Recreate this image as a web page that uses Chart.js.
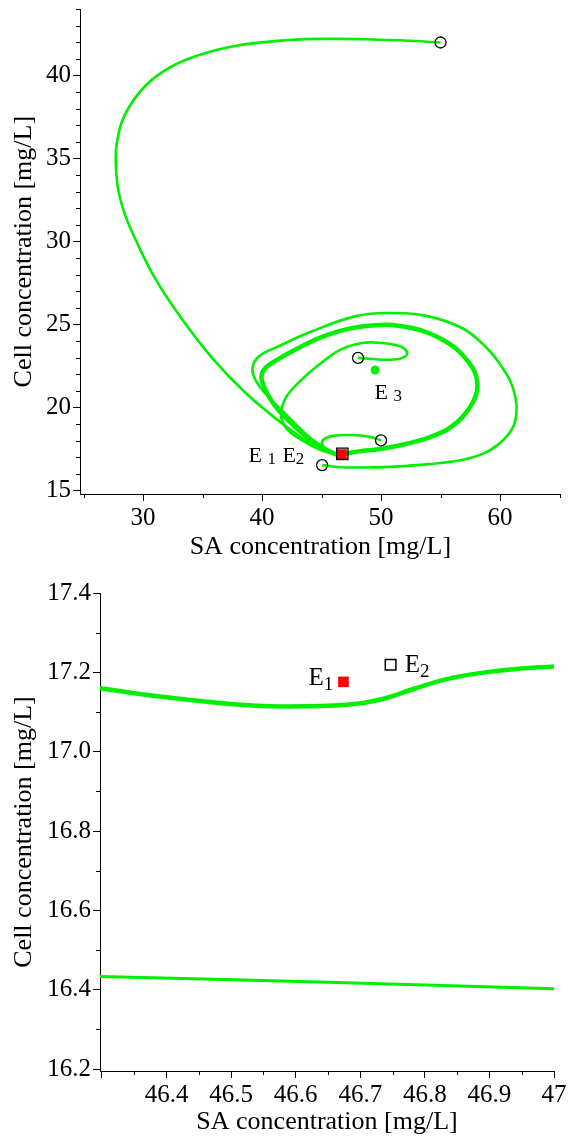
<!DOCTYPE html>
<html lang="en">
<head>
  <meta charset="UTF-8" />
  <title>Phase portrait</title>
  <style>
    body { margin: 0; background: #fff; }
    canvas { display: block; }
  </style>
</head>
<body>
  <canvas id="phaseChart" width="570" height="570"></canvas>
  <canvas id="zoomChart" width="570" height="570"></canvas>

  <script src="https://cdn.jsdelivr.net/npm/chart.js"></script>
  <script>
    // --- top chart: trajectories (SA, cell) ---
    const swoopX = [55, 52, 49.8, 46, 42.3, 37.5, 33.6, 31.1, 29.45, 28.3, 27.8, 27.7, 27.9, 28.5, 29.45, 31.0, 33.2, 35.8, 38.6, 41.6, 44.2, 46.3];
    const swoopY = [42.0, 42.12, 42.17, 42.22, 42.15, 41.76, 40.96, 39.96, 38.77, 37.37, 35.97, 34.98, 33.18, 31.6, 30.0, 27.8, 25.4, 23.0, 20.9, 19.1, 17.8, 17.16];

    const cycleX = [46.3, 46.6, 46.9, 47.5, 48.5, 49.8, 52.0, 54.0, 55.6, 56.8, 57.7, 58.1, 57.9, 57.3, 56.4, 55.4, 54.0, 52.6, 50.5, 48.5, 46.4, 44.5, 42.8, 41.3, 40.3, 39.95, 40.2, 40.9, 41.7, 43.0, 44.2, 45.3, 46.3];
    const cycleY = [17.16, 17.11, 17.19, 17.3, 17.4, 17.5, 17.8, 18.2, 18.7, 19.4, 20.3, 21.2, 22.1, 22.8, 23.5, 24.0, 24.5, 24.8, 25.0, 24.9, 24.6, 24.1, 23.5, 22.9, 22.4, 21.9, 21.2, 20.3, 19.6, 18.7, 18.0, 17.5, 17.16];

    const outerX = [45.05, 46.3, 47.0, 49.0, 51.2, 54.0, 56.8, 58.5, 59.7, 60.6, 61.2, 61.4, 61.2, 60.8, 60.2, 59.4, 58.3, 56.8, 54.0, 50.6, 47.8, 44.2, 41.4, 39.75, 39.2, 39.5, 40.6, 42.0, 43.7, 45.3, 46.3];
    const outerY = [16.54, 16.43, 16.40, 16.40, 16.45, 16.6, 16.85, 17.2, 17.7, 18.3, 19.0, 20.0, 20.9, 21.7, 22.4, 23.2, 24.0, 24.8, 25.5, 25.7, 25.5, 24.6, 23.7, 23.1, 22.4, 21.6, 20.6, 19.6, 18.4, 17.5, 17.16];

    const innerX = [48.07, 49.8, 51.0, 51.8, 52.2, 51.6, 50.0, 48.4, 46.6, 44.8, 43.2, 42.0, 41.6, 42.0, 43.2, 44.8, 46.3];
    const innerY = [23.0, 22.9, 22.9, 23.0, 23.3, 23.7, 23.9, 23.9, 23.5, 22.6, 21.6, 20.6, 19.6, 18.8, 18.1, 17.5, 17.16];

    const hookX = [50.0, 49.0, 47.5, 46.0, 45.2, 45.05, 45.5, 46.3];
    const hookY = [18.03, 18.25, 18.35, 18.3, 18.1, 17.8, 17.45, 17.16];

    const startX = [55, 48.07, 50.0, 45.05];
    const startY = [42.0, 23.0, 18.03, 16.54];

    // equilibria
    const e1 = [46.674, 17.176];
    const e2 = [46.747, 17.219];
    const e3 = [49.5, 22.27];

    // --- bottom chart: zoom near E1/E2 ---
    const zoomUpperX = [46.297, 46.4, 46.5, 46.576, 46.679, 46.73, 46.782, 46.834, 46.885, 46.937, 47.0];
    const zoomUpperY = [17.16, 17.137, 17.12, 17.114, 17.118, 17.131, 17.158, 17.183, 17.198, 17.208, 17.215];
    const zoomLowerX = [46.297, 46.65, 47.005];
    const zoomLowerY = [16.433, 16.419, 16.402];

    // --- ticks ---
    const topXTicks = [30, 40, 50, 60];
    const topXMinor = [25, 35, 45, 55, 65];
    const topYTicks = [15, 20, 25, 30, 35, 40];
    const topYMinor = [16, 17, 18, 19, 21, 22, 23, 24, 26, 27, 28, 29, 31, 32, 33, 34, 36, 37, 38, 39, 41, 42, 43, 44];

    const botXTicks = [46.3, 46.4, 46.5, 46.6, 46.7, 46.8, 46.9, 47];
    const botXLabels = ['', '46.4', '46.5', '46.6', '46.7', '46.8', '46.9', '47'];
    const botXMinor = [46.35, 46.45, 46.55, 46.65, 46.75, 46.85, 46.95];
    const botYTicks = [16.2, 16.4, 16.6, 16.8, 17.0, 17.2, 17.4];
    const botYLabels = ['16.2', '16.4', '16.6', '16.8', '17.0', '17.2', '17.4'];
    const botYMinor = [16.3, 16.5, 16.7, 16.9, 17.1, 17.3];

    const GREEN = '#00f000';
    const SERIF = '"Liberation Serif", "DejaVu Serif", serif';

    const pts = (xs, ys) => xs.map((x, i) => ({ x: x, y: ys[i] }));

    function curve(xs, ys, width) {
      return {
        data: pts(xs, ys), showLine: true, borderColor: GREEN, borderWidth: width,
        pointRadius: 0, tension: 0.4, fill: false
      };
    }

    // short ticks between the labelled ones
    const minorTicks = {
      id: 'minorTicks',
      afterDraw(chart, args, opts) {
        const ctx = chart.ctx;
        const { x, y } = chart.scales;
        ctx.save();
        ctx.strokeStyle = '#000';
        ctx.lineWidth = 1;
        (opts.x || []).forEach(v => {
          const px = Math.round(x.getPixelForValue(v)) + 0.5;
          ctx.beginPath(); ctx.moveTo(px, x.top); ctx.lineTo(px, x.top + 4); ctx.stroke();
        });
        (opts.y || []).forEach(v => {
          const py = Math.round(y.getPixelForValue(v)) + 0.5;
          ctx.beginPath(); ctx.moveTo(y.right, py); ctx.lineTo(y.right - 4, py); ctx.stroke();
        });
        ctx.restore();
      }
    };

    // E labels with subscripts
    const eqLabels = {
      id: 'eqLabels',
      afterDatasetsDraw(chart, args, opts) {
        const ctx = chart.ctx;
        const { x, y } = chart.scales;
        ctx.save();
        ctx.fillStyle = '#000';
        ctx.textBaseline = 'alphabetic';
        (opts.items || []).forEach(it => {
          const px = x.getPixelForValue(it.x);
          const py = y.getPixelForValue(it.y);
          ctx.font = opts.mainSize + 'px ' + SERIF;
          ctx.fillText(it.main, px, py);
          const w = ctx.measureText(it.main).width;
          ctx.font = opts.subSize + 'px ' + SERIF;
          ctx.fillText(it.sub, px + w, py + opts.drop);
        });
        ctx.restore();
      }
    };

    function axis(opts) {
      return {
        type: 'linear',
        position: opts.position,
        min: opts.min,
        max: opts.max,
        afterBuildTicks: s => { s.ticks = opts.ticks.map(v => ({ value: v })); },
        afterFit: s => {
          if (opts.position === 'left') { s.width = opts.size; s.paddingTop = 0; s.paddingBottom = 0; }
          else { s.height = opts.size; s.paddingLeft = 0; s.paddingRight = 0; }
        },
        grid: { drawOnChartArea: false, drawTicks: true, tickLength: 7, color: '#000', tickWidth: 1 },
        border: { display: true, color: '#000', width: 1 },
        ticks: {
          color: '#000', padding: 2, maxRotation: 0, autoSkip: false,
          font: { family: SERIF, size: 25 },
          callback: (v, i) => opts.labels ? opts.labels[i] : String(v)
        },
        title: {
          display: true, text: opts.title, color: '#000',
          font: { family: SERIF, size: 26 },
          padding: opts.titlePad
        }
      };
    }

    const baseOpts = {
      responsive: false,
      animation: false,
      devicePixelRatio: 1,
      events: [],
      plugins: { legend: { display: false }, tooltip: { enabled: false } }
    };

    new Chart(document.getElementById('phaseChart'), {
      type: 'scatter',
      data: {
        datasets: [
          { data: pts(startX, startY), pointRadius: 5.5, pointStyle: 'circle', backgroundColor: 'rgba(0,0,0,0)', borderColor: '#000', borderWidth: 1.3 },
          { data: pts([e2[0]], [e2[1]]), pointRadius: 8, pointStyle: 'rect', backgroundColor: 'rgba(0,0,0,0)', borderColor: '#000', borderWidth: 1.3 },
          { data: pts([e1[0]], [e1[1]]), pointRadius: 7.5, pointStyle: 'rect', backgroundColor: '#ff0000', borderColor: '#ff0000', borderWidth: 0 },
          { data: pts([e3[0]], [e3[1]]), pointRadius: 4.5, pointStyle: 'circle', backgroundColor: GREEN, borderColor: GREEN, borderWidth: 0 },
          curve(cycleX, cycleY, 4.5),
          curve(swoopX, swoopY, 2.6),
          curve(outerX, outerY, 2.6),
          curve(innerX, innerY, 2.6),
          curve(hookX, hookY, 2.6)
        ]
      },
      options: Object.assign({}, baseOpts, {
        layout: { padding: { top: 6, right: 7, bottom: 0, left: 0 } },
        scales: {
          x: axis({ position: 'bottom', min: 24.7, max: 65.1, ticks: topXTicks, size: 76, title: 'SA concentration [mg/L]', titlePad: { top: 0, bottom: 7 } }),
          y: axis({ position: 'left', min: 14.8, max: 44.0, ticks: topYTicks, size: 80, title: 'Cell concentration [mg/L]', titlePad: { top: 9, bottom: 0 } })
        },
        plugins: Object.assign({}, baseOpts.plugins, {
          minorTicks: { x: topXMinor, y: topYMinor },
          eqLabels: {
            mainSize: 22, subSize: 17, drop: 2,
            items: [
              { main: 'E ', sub: '1', x: 38.86, y: 16.73 },
              { main: 'E', sub: '2', x: 41.71, y: 16.73 },
              { main: 'E ', sub: '3', x: 49.46, y: 20.53 }
            ]
          }
        })
      }),
      plugins: [minorTicks, eqLabels]
    });

    new Chart(document.getElementById('zoomChart'), {
      type: 'scatter',
      data: {
        datasets: [
          { data: pts([e2[0]], [e2[1]]), pointRadius: 7.5, pointStyle: 'rect', backgroundColor: 'rgba(0,0,0,0)', borderColor: '#000', borderWidth: 1.5 },
          { data: pts([e1[0]], [e1[1]]), pointRadius: 7.5, pointStyle: 'rect', backgroundColor: '#ff0000', borderColor: '#ff0000', borderWidth: 0 },
          curve(zoomUpperX, zoomUpperY, 4.5),
          curve(zoomLowerX, zoomLowerY, 3)
        ]
      },
      options: Object.assign({}, baseOpts, {
        layout: { padding: { top: 23, right: 16, bottom: 0, left: 0 } },
        scales: {
          x: axis({ position: 'bottom', min: 46.297, max: 47.0, ticks: botXTicks, labels: botXLabels, size: 69, title: 'SA concentration [mg/L]', titlePad: { top: 0, bottom: 2 } }),
          y: axis({ position: 'left', min: 16.195, max: 17.4, ticks: botYTicks, labels: botYLabels, size: 100, title: 'Cell concentration [mg/L]', titlePad: { top: 9, bottom: 0 } })
        },
        plugins: Object.assign({}, baseOpts.plugins, {
          minorTicks: { x: botXMinor, y: botYMinor },
          eqLabels: {
            mainSize: 25, subSize: 19, drop: 5,
            items: [
              { main: 'E', sub: '1', x: 46.62, y: 17.169 },
              { main: 'E', sub: '2', x: 46.769, y: 17.2 }
            ]
          }
        })
      }),
      plugins: [minorTicks, eqLabels]
    });
  </script>
</body>
</html>
